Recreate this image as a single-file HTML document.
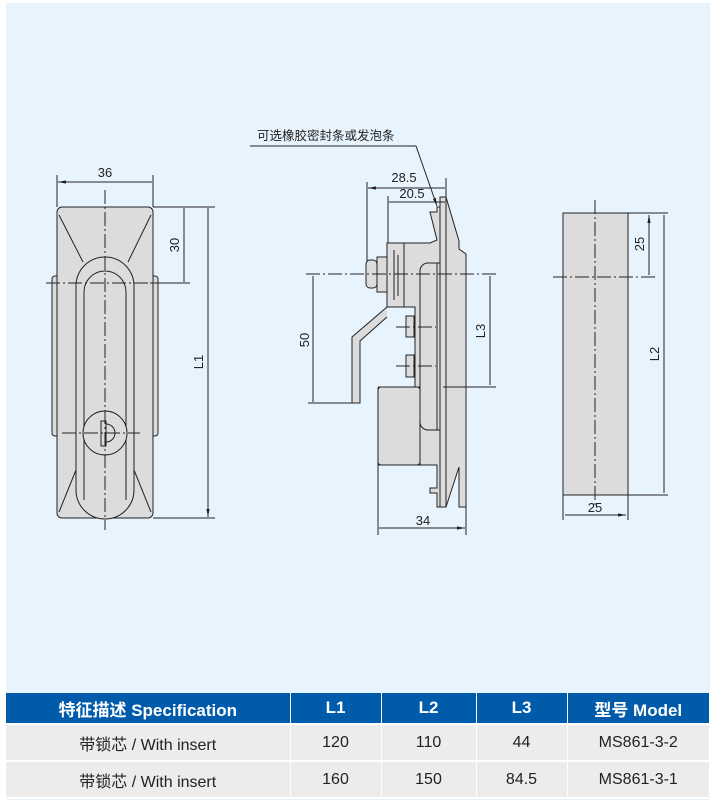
<!DOCTYPE html>
<html><head><meta charset="utf-8"><style>
body{margin:0;width:713px;height:804px;background:#fff;overflow:hidden;font-family:"Liberation Sans","Noto Sans CJK SC",sans-serif}
#bg{position:absolute;left:6px;top:3px;width:704px;height:797px;background:#e8f4fd}
svg{position:absolute;left:0;top:0}
table{position:absolute;left:6px;top:693px;width:704px;border-collapse:collapse;table-layout:fixed}
td{text-align:center;font-size:16px;color:#222;padding:0;border-right:1px solid #fff;border-bottom:2px solid #fff}
tr.h td{background:#005baa;color:#fff;font-weight:bold;font-size:17px;height:30px}
tr.r td{background:#ececec;height:35px}
</style></head><body>
<div id="bg"></div>
<svg width="713" height="804" viewBox="0 0 713 804" font-family="Liberation Sans, Noto Sans CJK SC, sans-serif" font-size="12" fill="none" stroke="#222" stroke-width="1">
<defs><marker id="a" viewBox="0 0 10 10" refX="10" refY="5" markerWidth="8" markerHeight="8" orient="auto-start-reverse"><path d="M0,3L10,5L0,7z" fill="#222" stroke="none"/></marker></defs>
<!-- LEFT -->
<rect x="52" y="276" width="8" height="160" rx="3" fill="#dcdcdc"/>
<rect x="150" y="276" width="8" height="160" rx="3" fill="#dcdcdc"/>
<rect x="57" y="207" width="96" height="311" rx="5" fill="#dcdcdc"/>
<path d="M59,215L83,262M151,215L128,262M59,512L76,470M151,512L134,470"/>
<path d="M76,286 a29,29 0 0 1 58,0 V490 a29,29 0 0 1 -58,0z" fill="#dcdcdc"/>
<path d="M84,292 a21,21 0 0 1 42,0 V500 M84,292 V500"/>
<circle cx="105" cy="433" r="22" fill="#dcdcdc"/>
<rect x="101" y="421" width="5" height="25" fill="#dcdcdc"/>
<path d="M106,424 a9,9 0 0 1 0,18"/>
<g stroke-dasharray="14,3,2,3"><path d="M105,190V530M46,283H165M62,433H140"/></g>
<path d="M57,175V207M153,175V207M153,207H215M153,518H215M150,283H190"/>
<path d="M58,182H152M184,208V282M208,208V517" marker-start="url(#a)" marker-end="url(#a)"/>
<!-- MIDDLE -->
<path d="M446,197L459,241L459,249L466,254L466,507L459,507L459,467L446,507z" fill="#dcdcdc"/>
<path d="M430,212H437V207H440V507H437V493H430V488H437V465H378V388L380,387H415V307H387V243H430L437,240z" fill="#dcdcdc"/>
<path d="M378,387H420V465" />
<rect x="378" y="387" width="42" height="78" rx="3" fill="#dcdcdc"/>
<path d="M437,263H428a8,8 0 0 0 -8,8V422a8,8 0 0 0 8,8H437" fill="#dcdcdc"/>
<rect x="437" y="263" width="6" height="167" fill="#dcdcdc"/>
<rect x="440" y="197" width="6" height="310" fill="#dcdcdc"/>
<rect x="387" y="243" width="17" height="64" fill="#dcdcdc"/>
<path d="M394,250V300M398,255V296"/>
<rect x="377" y="257" width="10" height="35" fill="#dcdcdc"/>
<rect x="366" y="260" width="11" height="28" rx="4" fill="#dcdcdc"/>
<path d="M387,307L352,337V403H360V341L387,317" fill="#dcdcdc"/>
<rect x="406" y="316" width="8" height="21" fill="#dcdcdc"/><rect x="406" y="355" width="8" height="22" fill="#dcdcdc"/>
<g stroke-dasharray="14,3,2,3"><path d="M306,274H497M396,327H436M396,366H436"/></g>
<path d="M367,182V262M388,196V243M446,178V197M443,387H496M308,403H352M378,465V535M466,507V535"/>
<path d="M368,188H445M389,202H445M313,276V402M490,276V385M379,528H465" marker-start="url(#a)" marker-end="url(#a)"/>
<path d="M250,146H416"/>
<path d="M416,146L437,206" marker-end="url(#a)"/>
<!-- RIGHT -->
<rect x="563" y="213" width="65" height="282" fill="#dcdcdc"/>
<g stroke-dasharray="14,3,2,3"><path d="M595,200V505M553,277H655"/></g>
<path d="M628,213H668M628,495H668M563,495V520M628,495V520"/>
<path d="M649,215V275M664,215V493M565,515H626" marker-start="url(#a)" marker-end="url(#a)"/>
<g fill="#222" stroke="none" font-size="13">
<text x="105" y="177" text-anchor="middle">36</text>
<text transform="translate(179,245) rotate(-90)" text-anchor="middle">30</text>
<text transform="translate(203,362) rotate(-90)" text-anchor="middle">L1</text>
<text x="404" y="182" text-anchor="middle">28.5</text>
<text x="412" y="198" text-anchor="middle">20.5</text>
<text transform="translate(309,340) rotate(-90)" text-anchor="middle">50</text>
<text transform="translate(485,331) rotate(-90)" text-anchor="middle">L3</text>
<text x="423" y="525" text-anchor="middle">34</text>
<text x="257" y="140" font-size="12.5">可选橡胶密封条或发泡条</text>
<text transform="translate(644,244) rotate(-90)" text-anchor="middle">25</text>
<text transform="translate(659,354) rotate(-90)" text-anchor="middle">L2</text>
<text x="595" y="512" text-anchor="middle">25</text>
</g>
</svg>
<table>
<colgroup><col style="width:284px"><col style="width:91px"><col style="width:95px"><col style="width:91px"><col></colgroup>
<tr class="h"><td>特征描述 Specification</td><td>L1</td><td>L2</td><td>L3</td><td>型号 Model</td></tr>
<tr class="r"><td>带锁芯 / With insert</td><td>120</td><td>110</td><td>44</td><td>MS861-3-2</td></tr>
<tr class="r"><td>带锁芯 / With insert</td><td>160</td><td>150</td><td>84.5</td><td>MS861-3-1</td></tr>
</table>
</body></html>
